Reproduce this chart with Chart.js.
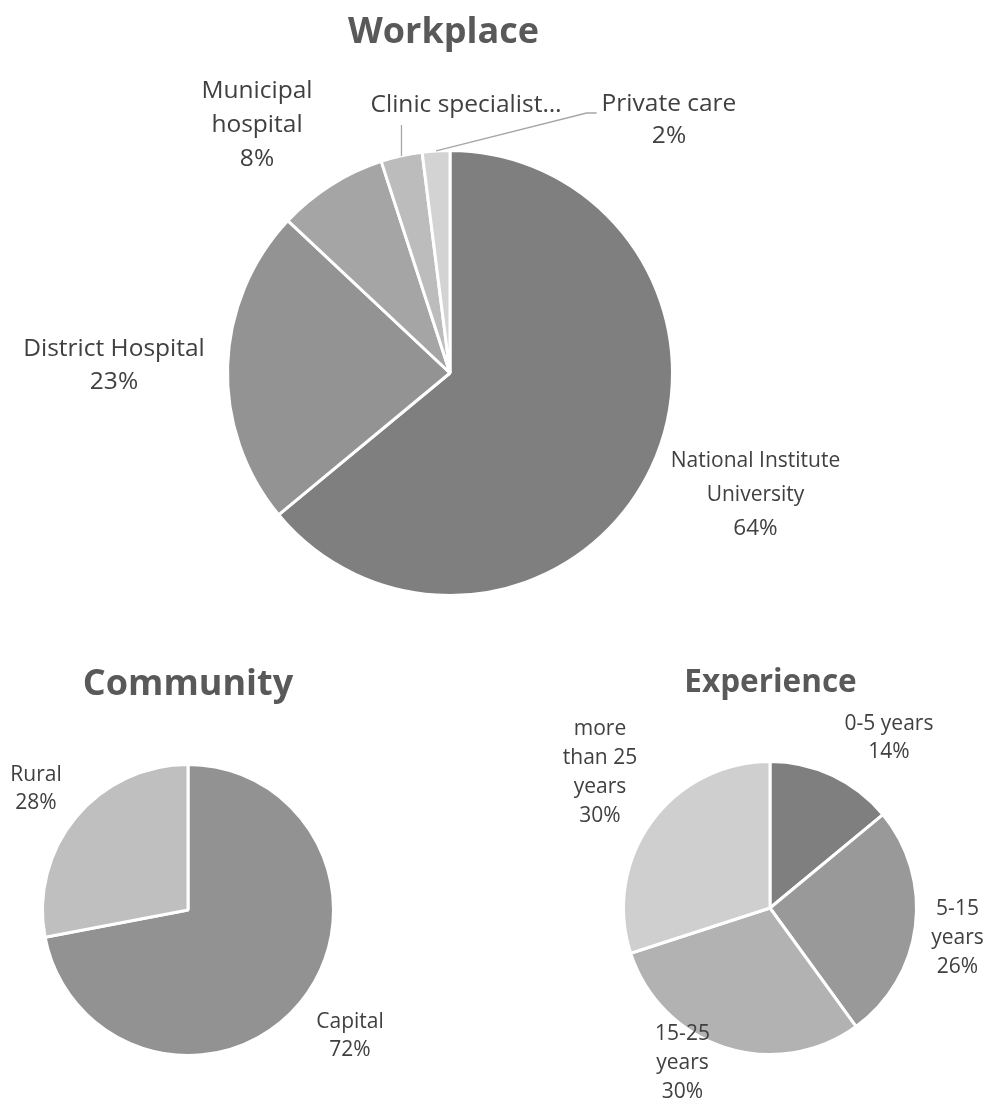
<!DOCTYPE html>
<html>
<head>
<meta charset="utf-8">
<script src="https://cdn.jsdelivr.net/npm/chart.js@4.4.1/dist/chart.umd.min.js"></script>
<style>
  html, body { margin: 0; padding: 0; background: #fff; }
  #wrap { position: relative; width: 989px; height: 1104px; overflow: hidden; }
  #wrap canvas { position: absolute; left: 0; top: 0; }
</style>
</head>
<body>
<div id="wrap">
  <canvas id="work" width="989" height="1104"></canvas>
  <canvas id="comm" width="989" height="1104"></canvas>
  <canvas id="exp" width="989" height="1104"></canvas>
</div>
<script>
// ── data ─────────────────────────────────────────────
const workLabels = ['National Institute University', 'District Hospital', 'Municipal hospital', 'Clinic specialist…', 'Private care'];
const workValues = [64, 23, 8, 3, 2];

const commLabels = ['Capital', 'Rural'];
const commValues = [72, 28];

const expLabels = ['0-5 years', '5-15 years', '15-25 years', 'more than 25 years'];
const expValues = [14, 26, 30, 30];

// ── label placement (offsets from pie centre, first baseline) ──
const workPlace = [
  { dx: 305.5, dy: 94,   w: 185, size: 21, pctSize: 22.5, lh: 34 },
  { dx: -336,  dy: -17,  w: 200, size: 24.5, lh: 33 },
  { dx: -193,  dy: -275, w: 130, size: 24.5, lh: 34 },
  { dx: 16,    dy: -261, w: 300, size: 24.5, pct: false, leader: 'up' },
  { dx: 219,   dy: -262, w: 160, size: 24.5, lh: 32, leader: 'elbow' },
];
const commPlace = [
  { dx: 162,  dy: 118,  w: 100, size: 21, lh: 28 },
  { dx: -152, dy: -129, w: 100, size: 21, lh: 28 },
];
const expPlace = [
  { dx: 119,   dy: -178, w: 120, size: 21, lh: 28 },
  { dx: 187.5, dy: 7,    w: 70,  size: 21, lh: 29 },
  { dx: -87.5, dy: 132,  w: 70,  size: 21, lh: 29 },
  { dx: -170,  dy: -173, w: 85,  size: 21, lh: 29 },
];

const FONT = '"Open Sans", "Noto Sans", sans-serif';
const TXT = '#404040';

function wrap(ctx, text, maxW) {
  const words = text.split(' ');
  const lines = [];
  let cur = '';
  for (const w of words) {
    const t = cur ? cur + ' ' + w : w;
    if (cur && ctx.measureText(t).width > maxW) { lines.push(cur); cur = w; }
    else cur = t;
  }
  if (cur) lines.push(cur);
  return lines;
}

// draws the title, slice labels and leader lines
const sliceLabels = {
  id: 'sliceLabels',
  afterDatasetsDraw(chart, args, opts) {
    const ctx = chart.ctx;
    const meta = chart.getDatasetMeta(0);
    const cx = meta.data[0].x, cy = meta.data[0].y;
    const vals = chart.data.datasets[0].data;
    const total = vals.reduce((a, b) => a + b, 0);
    ctx.save();
    ctx.textAlign = 'center';
    ctx.textBaseline = 'alphabetic';

    ctx.fillStyle = '#595959';
    ctx.font = `bold ${opts.titleSize}px ${FONT}`;
    ctx.fillText(opts.title, cx + opts.titleDx, cy + opts.titleDy);

    meta.data.forEach((arc, i) => {
      const L = opts.place[i];
      const x = cx + L.dx, y0 = cy + L.dy;
      const lh = L.lh || 30;
      ctx.fillStyle = TXT;
      ctx.font = `${L.size}px ${FONT}`;
      const lines = wrap(ctx, chart.data.labels[i], L.w);
      let maxW = 0;
      lines.forEach((s, k) => {
        ctx.fillText(s, x, y0 + k * lh);
        maxW = Math.max(maxW, ctx.measureText(s).width);
      });
      if (L.pct !== false) {
        ctx.font = `${L.pctSize || L.size}px ${FONT}`;
        ctx.fillText(Math.round(vals[i] / total * 100) + '%', x, y0 + lines.length * lh);
      }
      if (L.leader) {
        const a = (arc.startAngle + arc.endAngle) / 2;
        const sx = cx + Math.cos(a) * arc.outerRadius;
        const sy = cy + Math.sin(a) * arc.outerRadius;
        ctx.strokeStyle = '#a6a6a6';
        ctx.lineWidth = 1.3;
        ctx.beginPath();
        ctx.moveTo(sx, sy);
        if (L.leader === 'up') {
          ctx.lineTo(sx, y0 + 13);
        } else {
          const left = x - maxW / 2;
          ctx.lineTo(left - 15, y0 + 2);
          ctx.lineTo(left - 5, y0 + 2);
        }
        ctx.stroke();
      }
    });
    ctx.restore();
  }
};

function pie(id, labels, values, colors, radius, padding, plugOpts) {
  return new Chart(document.getElementById(id), {
    type: 'pie',
    data: {
      labels,
      datasets: [{ data: values, backgroundColor: colors, borderColor: '#ffffff', borderWidth: 3 }]
    },
    options: {
      responsive: false,
      animation: false,
      radius,
      layout: { padding },
      plugins: { legend: { display: false }, tooltip: { enabled: false }, sliceLabels: plugOpts }
    },
    plugins: [sliceLabels]
  });
}

pie('work', workLabels, workValues,
  ['#7f7f7f', '#939393', '#a5a5a5', '#bcbcbc', '#d3d3d3'],
  222.5, { left: 0, right: 89, top: 0, bottom: 358 },
  { title: 'Workplace', titleSize: 36, titleDx: -6.5, titleDy: -330, place: workPlace });

pie('comm', commLabels, commValues,
  ['#929292', '#bfbfbf'],
  145.5, { left: 0, right: 613, top: 716, bottom: 0 },
  { title: 'Community', titleSize: 36, titleDx: 0, titleDy: -215, place: commPlace });

pie('exp', expLabels, expValues,
  ['#7f7f7f', '#999999', '#b2b2b2', '#cfcfcf'],
  146.5, { left: 551, right: 0, top: 712, bottom: 0 },
  { title: 'Experience', titleSize: 31.5, titleDx: 0.5, titleDy: -216, place: expPlace });
</script>
</body>
</html>
